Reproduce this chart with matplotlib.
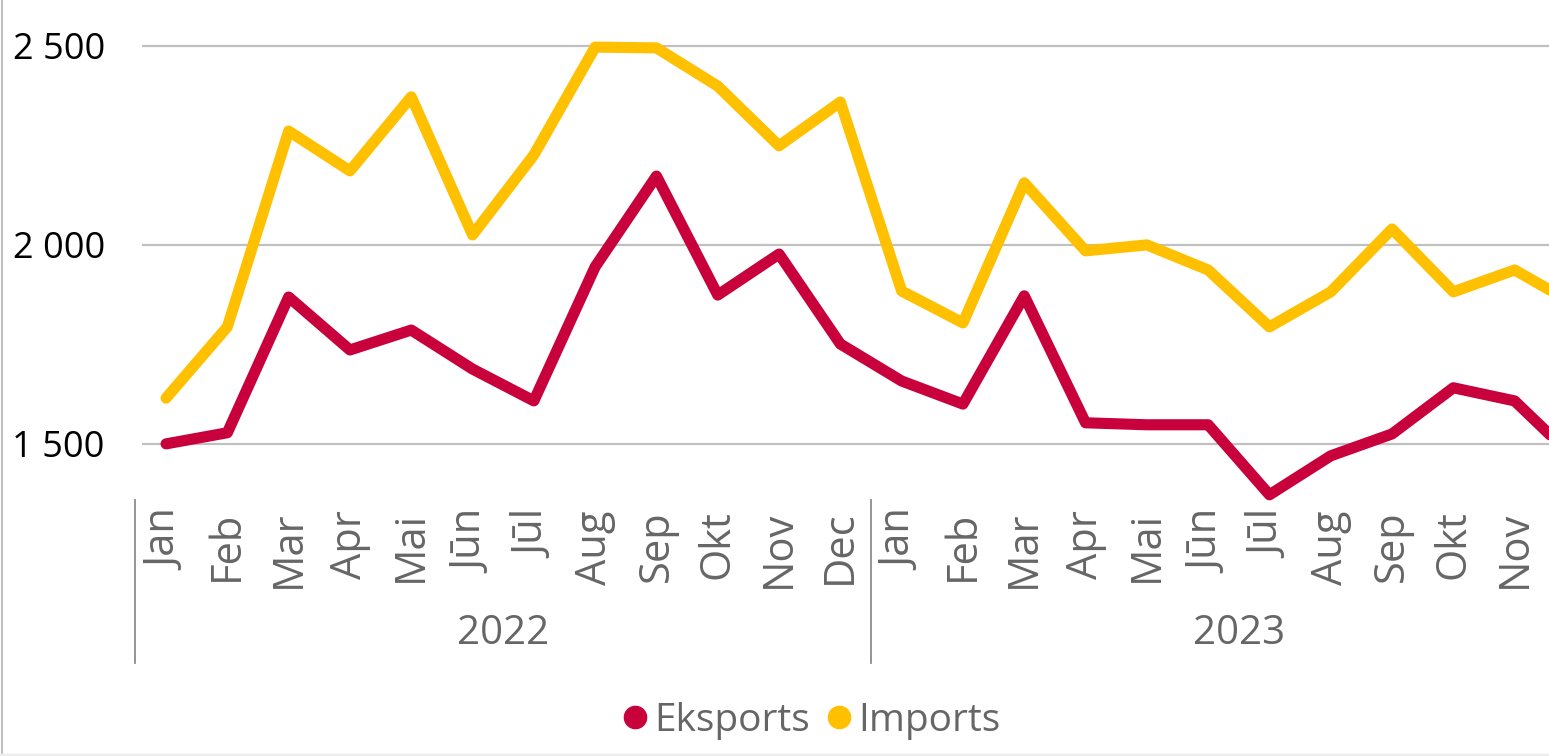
import numpy as np
import matplotlib
matplotlib.use("Agg")
from matplotlib import pyplot as plt
from matplotlib.lines import Line2D

plt.rcParams['font.family'] = ['Open Sans', 'DejaVu Sans']

# dati (milj. EUR), nolasīti no attēla
months = ["Jan", "Feb", "Mar", "Apr", "Mai", "Jūn", "Jūl", "Aug", "Sep", "Okt", "Nov", "Dec"]
years = ["2022", "2023"]
eksports = [1500, 1528, 1869, 1736, 1786, 1688, 1608, 1945, 2173, 1874, 1977, 1751,
            1658, 1600, 1872, 1553, 1548, 1548, 1372, 1470, 1525, 1641, 1608, 1460]
imports = [1615, 1794, 2286, 2186, 2372, 2025, 2226, 2497, 2495, 2399, 2249, 2359,
           1884, 1804, 2156, 1985, 2000, 1937, 1794, 1882, 2040, 1882, 1937, 1849]
y_ticks = [1500, 2000, 2500]
y_labels = ["1 500", "2 000", "2 500"]

c_eks = "#C8003C"
c_imp = "#FFC000"
grey = "#666666"

W, H = 1549, 756
fig = plt.figure(figsize=(W / 100, H / 100), dpi=100)
# plot area: slots start at x=135.4px, 61.3px each, y from 30px to 498px
ax = fig.add_axes([135.4 / W, 1 - 498 / H, 24 * 61.3 / W, 468 / H])

x = np.arange(len(eksports))
ax.set_xlim(-0.5, 23.5)
ax.set_ylim(1364, 2540)

ax.hlines(y_ticks, -0.4, 23.5, color="#C0C0C0", lw=1.6, zorder=1)
ax.plot(x, eksports, color=c_eks, lw=8, solid_joinstyle="round",
        solid_capstyle="round", clip_on=False, zorder=3)
ax.plot(x, imports, color=c_imp, lw=8, solid_joinstyle="round",
        solid_capstyle="round", clip_on=False, zorder=3)

for s in ax.spines.values():
    s.set_visible(False)

ax.set_yticks(y_ticks, y_labels)
ax.tick_params(axis="y", length=0, pad=22, labelsize=26, labelcolor="black")
# pēdējais (Dec 2023) paraksts attēlā neredzams - ārpus malas
tick_labels = (months * 2)[:-1] + [""]
ax.set_xticks(x, tick_labels, rotation=90)
ax.tick_params(axis="x", length=0, pad=9, labelsize=30, labelcolor=grey)

tr = ax.get_xaxis_transform()
for i, yr in enumerate(years):
    ax.text(i * 12 + 5.5, -0.29, yr, transform=tr, ha="center", va="center",
            fontsize=29, color=grey)
for xs in [-0.5, 11.5, 23.5]:
    ax.plot([xs, xs], [-0.004, -0.353], transform=tr, color="#8C8C8C", lw=1.3,
            clip_on=False)

handles = [Line2D([], [], ls="none", marker="o", ms=16, color=c_eks),
           Line2D([], [], ls="none", marker="o", ms=16, color=c_imp)]
fig.legend(handles, ["Eksports", "Imports"], loc="center", ncol=2,
           bbox_to_anchor=(808 / W, 1 - 721 / H), frameon=False, fontsize=28,
           labelcolor=grey, handletextpad=0.0, columnspacing=0.25, handlelength=1.0)

# rāmja malas
fig.add_artist(Line2D([1.5 / W, 1.5 / W], [0, 1], color="#C0C0C0", lw=1.5))
fig.add_artist(Line2D([0, 1], [1.5 / H, 1.5 / H], color="#EDEDED", lw=2.5))

fig.savefig("out.png", dpi=100)
